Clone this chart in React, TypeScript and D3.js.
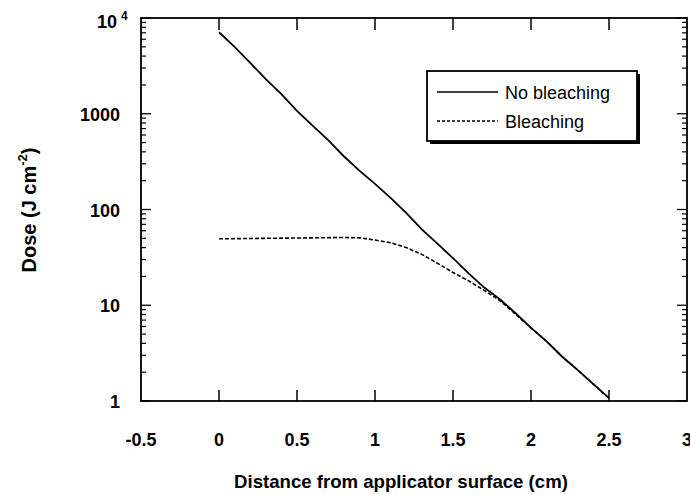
import React, { useEffect, useRef } from 'react';
import * as d3 from 'd3';

// distance from applicator surface (cm)
const distance = [
  0, 0.1, 0.2, 0.3, 0.4, 0.5, 0.6, 0.7, 0.8, 0.9, 1.0, 1.1, 1.2, 1.3,
  1.4, 1.5, 1.6, 1.7, 1.8, 1.9, 2.0, 2.1, 2.2, 2.3, 2.4, 2.5,
];
// dose (J cm^-2)
const noBleaching = [
  7100, 5000, 3400, 2300, 1600, 1070, 750, 530, 360, 255, 185, 132, 92, 62,
  44, 31, 21.5, 15.3, 11.6, 8.3, 5.8, 4.2, 2.9, 2.1, 1.5, 1.07,
];
const bleaching = [
  49.5, 49.6, 49.8, 50, 50.2, 50.4, 50.6, 50.8, 51, 50.6, 48, 45, 40, 34,
  27.5, 22, 18, 14.3, 11.2, 8.1, 5.8, 4.2, 2.9, 2.1, 1.5, 1.07,
];
const xTicks = [-0.5, 0, 0.5, 1, 1.5, 2, 2.5, 3];
const yTicks = [1, 10, 100, 1000];
const legendLabels = ['No bleaching', 'Bleaching'];

const W = 690;
const H = 495;

const App = () => {
  const svgRef = useRef<SVGSVGElement>(null);

  useEffect(() => {
    const svg = d3.select(svgRef.current);
    svg.selectAll('*').remove();

    const x = d3.scaleLinear().domain([-0.5, 3]).range([141, 687]);
    const y = d3.scaleLog().domain([1, 1e4]).range([401, 18]);
    const [x0, x1] = x.range();
    const [y0, y1] = y.range();
    const font = 'Liberation Sans, Arial, sans-serif';

    // Frame
    svg
      .append('rect')
      .attr('x', x0)
      .attr('y', y1)
      .attr('width', x1 - x0)
      .attr('height', y0 - y1)
      .attr('fill', 'none')
      .attr('stroke', '#000')
      .attr('stroke-width', 1.8);

    // X ticks, top and bottom, pointing inward
    const inner = xTicks.filter((t) => t > -0.5 && t < 3);
    inner.forEach((t) => {
      svg.append('line').attr('x1', x(t)).attr('x2', x(t)).attr('y1', y0).attr('y2', y0 - 11)
        .attr('stroke', '#000').attr('stroke-width', 1.5);
      svg.append('line').attr('x1', x(t)).attr('x2', x(t)).attr('y1', y1).attr('y2', y1 + 12)
        .attr('stroke', '#000').attr('stroke-width', 1.5);
    });
    svg
      .selectAll('.xlab')
      .data(xTicks)
      .enter()
      .append('text')
      .attr('x', (d) => x(d))
      .attr('y', 446)
      .attr('text-anchor', 'middle')
      .attr('font-family', font)
      .attr('font-weight', 'bold')
      .attr('font-size', 18)
      .text((d) => `${d}`);

    // Y ticks, log scale, left and right
    const minor: number[] = [];
    [1, 10, 100, 1000].forEach((dec) => {
      for (let k = 2; k <= 9; k++) minor.push(dec * k);
    });
    const majors = [1, 10, 100, 1000, 10000];
    majors.forEach((v) => {
      svg.append('line').attr('x1', x0).attr('x2', x0 + 10).attr('y1', y(v)).attr('y2', y(v))
        .attr('stroke', '#000').attr('stroke-width', 1.3);
      svg.append('line').attr('x1', x1).attr('x2', x1 - 10).attr('y1', y(v)).attr('y2', y(v))
        .attr('stroke', '#000').attr('stroke-width', 1.3);
    });
    minor.forEach((v) => {
      svg.append('line').attr('x1', x0).attr('x2', x0 + 5).attr('y1', y(v)).attr('y2', y(v))
        .attr('stroke', '#000').attr('stroke-width', 1.2);
      svg.append('line').attr('x1', x1).attr('x2', x1 - 5).attr('y1', y(v)).attr('y2', y(v))
        .attr('stroke', '#000').attr('stroke-width', 1.2);
    });
    svg
      .selectAll('.ylab')
      .data(yTicks)
      .enter()
      .append('text')
      .attr('x', 120)
      .attr('y', (d) => y(d) + 7)
      .attr('text-anchor', 'end')
      .attr('font-family', font)
      .attr('font-weight', 'bold')
      .attr('font-size', 18)
      .text((d) => `${d}`);
    const top = svg
      .append('text')
      .attr('x', 97)
      .attr('y', y(1e4) + 10)
      .attr('font-family', font)
      .attr('font-weight', 'bold')
      .attr('font-size', 18);
    top.append('tspan').text('10');
    top.append('tspan').attr('dx', 4).attr('dy', -8).attr('font-size', 12).text('4');

    // Axis titles
    svg
      .append('text')
      .attr('x', 401)
      .attr('y', 488)
      .attr('text-anchor', 'middle')
      .attr('font-family', font)
      .attr('font-weight', 'bold')
      .attr('font-size', 18.6)
      .text('Distance from applicator surface (cm)');
    const yt = svg
      .append('text')
      .attr('transform', 'translate(36,210) rotate(-90)')
      .attr('text-anchor', 'middle')
      .attr('font-family', font)
      .attr('font-weight', 'bold')
      .attr('font-size', 20);
    yt.append('tspan').text('Dose (J cm');
    yt.append('tspan').attr('dy', -9).attr('font-size', 13).text('-2');
    yt.append('tspan').attr('dy', 9).text(')');

    // Lines
    const line = d3
      .line<number>()
      .x((d, i) => x(distance[i]))
      .y((d) => y(d));
    svg
      .append('path')
      .attr('d', line(bleaching))
      .attr('fill', 'none')
      .attr('stroke', '#000')
      .attr('stroke-width', 1.6)
      .attr('stroke-dasharray', '4,2');
    svg
      .append('path')
      .attr('d', line(noBleaching))
      .attr('fill', 'none')
      .attr('stroke', '#000')
      .attr('stroke-width', 1.8);

    // Legend
    const lg = svg.append('g');
    lg.append('rect').attr('x', 430).attr('y', 74).attr('width', 210).attr('height', 70).attr('fill', '#000');
    lg.append('rect').attr('x', 427).attr('y', 71).attr('width', 210).attr('height', 70)
      .attr('fill', '#fff').attr('stroke', '#000').attr('stroke-width', 1.8);
    legendLabels.forEach((label, i) => {
      const ly = 92 + i * 29;
      lg.append('line').attr('x1', 437).attr('x2', 498).attr('y1', ly).attr('y2', ly)
        .attr('stroke', '#000').attr('stroke-width', 1.3)
        .attr('stroke-dasharray', i === 1 ? '3,2' : null);
      lg.append('text').attr('x', 505).attr('y', ly + 7)
        .attr('font-family', font).attr('font-size', 18).text(label);
    });
  }, []);

  return (
    <svg
      ref={svgRef}
      width={W}
      height={H}
      style={{ position: 'absolute', left: 0, top: 0, background: '#fff' }}
    />
  );
};

export default App;
